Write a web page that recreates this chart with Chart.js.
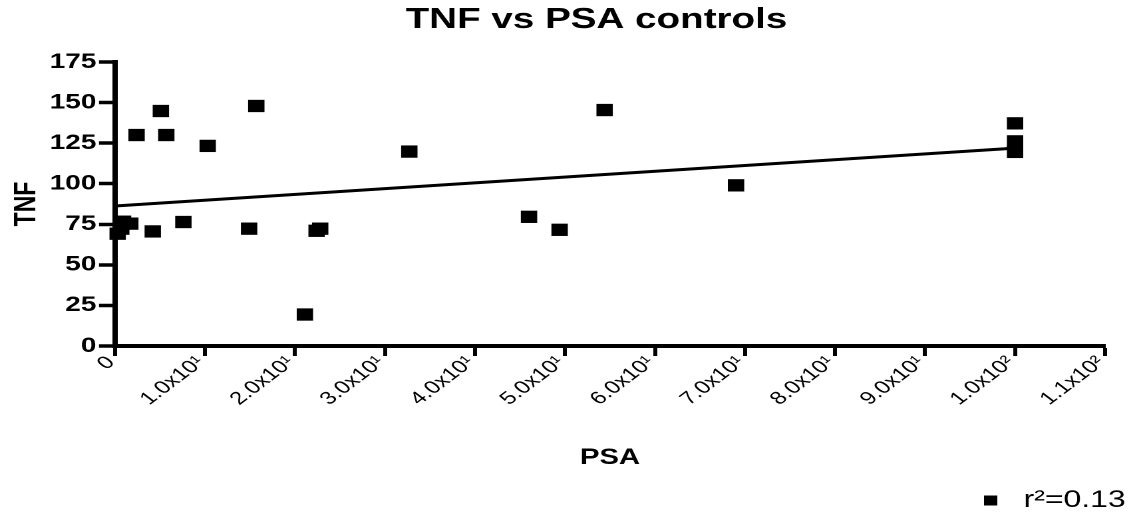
<!DOCTYPE html>
<html>
<head>
<meta charset="utf-8">
<script src="https://cdn.jsdelivr.net/npm/chart.js@4/dist/chart.umd.min.js"></script>
<style>
  html, body { margin: 0; padding: 0; background: #fff; overflow: hidden; }
  /* The figure is laid out at 856px wide and widened to 1139px, as in the exported plot */
  #wrap { width: 856px; height: 517px; transform: scaleX(1.33061); transform-origin: 0 0; }
  #c { width: 856px; height: 517px; display: block; }
</style>
</head>
<body>
<div id="wrap"><canvas id="c" width="856" height="517"></canvas></div>
<script>
// PSA (x) and TNF (y) for each control subject
const psa = [0.3, 0.7, 0.9, 1.7, 2.4, 4.2, 5.1, 5.7, 7.6, 10.3, 14.9, 15.7, 21.1, 22.4, 22.8, 32.7, 46.0, 49.4, 54.4, 69.0, 100, 100, 100];
const tnf = [69.2, 72.3, 76.6, 75.4, 130, 70.6, 144.8, 130, 76.4, 123.3, 72.3, 147.9, 19.4, 71, 72.3, 119.8, 79.6, 71.6, 145.4, 99, 137.2, 126.1, 119.6];

// Linear fit drawn across the data range
const fitX = [0, 100];
const fitY = [86.3, 121.9];

const legendLabel = 'r\u00B2=0.13';
const xTickLabels = ['0', '1.0x10\u00B9', '2.0x10\u00B9', '3.0x10\u00B9', '4.0x10\u00B9', '5.0x10\u00B9',
  '6.0x10\u00B9', '7.0x10\u00B9', '8.0x10\u00B9', '9.0x10\u00B9', '1.0x10\u00B2', '1.1x10\u00B2'];

const FONT = "'Liberation Sans', Arial, sans-serif";

// small filled square used as the legend marker
const legendMark = document.createElement('canvas');
legendMark.width = 10; legendMark.height = 10;
legendMark.getContext('2d').fillRect(0, 0, 10, 10);

// nudges the title and legend boxes after layout
const placeBoxes = {
  id: 'placeBoxes',
  afterLayout(chart) {
    const t = chart.titleBlock;
    if (t) { t.left += 33; t.right += 33; }
    const l = chart.legend;
    if (l) { l.left += 25.5; l.right += 25.5; l.top += 5.5; l.bottom += 5.5; }
  }
};

new Chart(document.getElementById('c'), {
  type: 'scatter',
  data: {
    datasets: [
      {
        label: legendLabel,
        data: psa.map((x, i) => ({ x: x, y: tnf[i] })),
        pointStyle: 'rect',
        pointRadius: 8.7,
        pointHoverRadius: 8.7,
        borderWidth: 0,
        backgroundColor: '#000',
        borderColor: '#000',
        clip: false
      },
      {
        type: 'line',
        label: 'fit',
        data: fitX.map((x, i) => ({ x: x, y: fitY[i] })),
        borderColor: '#000',
        borderWidth: 3,
        pointRadius: 0,
        fill: false,
        clip: false
      }
    ]
  },
  options: {
    responsive: false,
    maintainAspectRatio: false,
    devicePixelRatio: 2,
    animation: false,
    layout: { padding: { left: 0, right: 25.5, top: 0, bottom: 0 } },
    plugins: {
      tooltip: { enabled: false },
      title: {
        display: true,
        text: 'TNF vs PSA controls',
        color: '#000',
        font: { family: FONT, size: 29, weight: 'bold' },
        padding: { top: 2.5, bottom: 24.7 }
      },
      legend: {
        position: 'bottom',
        align: 'end',
        labels: {
          color: '#000',
          font: { family: FONT, size: 24 },
          usePointStyle: true,
          pointStyleWidth: 26,
          boxHeight: 10,
          padding: 10,
          generateLabels(chart) {
            return Chart.defaults.plugins.legend.labels.generateLabels(chart)
              .filter(it => it.datasetIndex === 0)
              .map(it => Object.assign(it, { pointStyle: legendMark }));
          }
        }
      }
    },
    scales: {
      x: {
        type: 'linear',
        min: 0,
        max: 110,
        afterFit(scale) { scale.height = 127; },
        ticks: {
          stepSize: 10,
          autoSkip: false,
          minRotation: 45,
          maxRotation: 45,
          padding: -4,
          labelOffset: -3,
          color: '#000',
          font: { family: FONT, size: 18 },
          callback: (v, i) => xTickLabels[i]
        },
        grid: { drawOnChartArea: false, drawTicks: true, tickLength: 10, tickWidth: 3, tickColor: '#000' },
        border: { display: true, width: 4, color: '#000' },
        title: {
          display: true,
          text: 'PSA',
          color: '#000',
          font: { family: FONT, size: 22, weight: 'bold' },
          padding: { top: 0, bottom: 2 }
        }
      },
      y: {
        min: 0,
        max: 175,
        afterFit(scale) { scale.width = 86.4; },
        ticks: {
          stepSize: 25,
          padding: 2,
          color: '#000',
          font: { family: FONT, size: 21, weight: 'bold' }
        },
        grid: { drawOnChartArea: false, drawTicks: true, tickLength: 12, tickWidth: 3.5, tickColor: '#000' },
        border: { display: true, width: 4, color: '#000' },
        title: {
          display: true,
          text: 'TNF',
          color: '#000',
          font: { family: FONT, size: 23, weight: 'bold' },
          padding: { top: 6.5, bottom: 0 }
        }
      }
    }
  },
  plugins: [placeBoxes]
});
</script>
</body>
</html>
